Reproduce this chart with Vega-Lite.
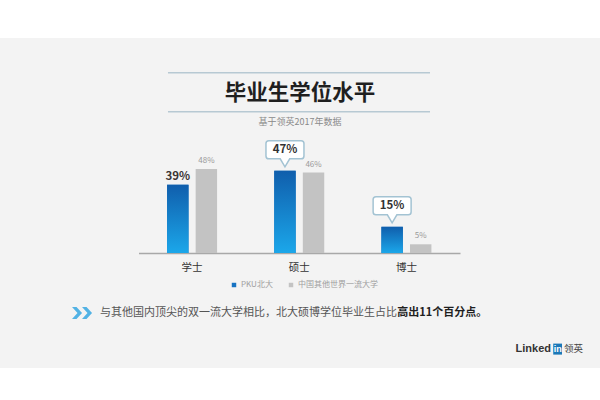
{
  "$schema": "https://vega.github.io/schema/vega-lite/v6.json",
  "width": 600,
  "height": 330,
  "autosize": "none",
  "padding": {"top": 38, "bottom": 32, "left": 0, "right": 0},
  "background": "#ffffff",
  "config": {
    "font": "Noto Sans CJK SC",
    "view": {"fill": "#f3f3f3", "stroke": null}
  },
  "title": {
    "text": "毕业生学位水平",
    "subtitle": "基于领英2017年数据",
    "anchor": "middle",
    "offset": -89,
    "fontSize": 21.5,
    "fontWeight": "bold",
    "color": "#1f1f1f",
    "subtitleFontSize": 9,
    "subtitleColor": "#8a8a8a",
    "subtitlePadding": 14
  },
  "data": {
    "values": [
      {"degree": "学士", "school": "PKU北大", "share": 0.39},
      {"degree": "学士", "school": "中国其他世界一流大学", "share": 0.48},
      {"degree": "硕士", "school": "PKU北大", "share": 0.47},
      {"degree": "硕士", "school": "中国其他世界一流大学", "share": 0.46},
      {"degree": "博士", "school": "PKU北大", "share": 0.15},
      {"degree": "博士", "school": "中国其他世界一流大学", "share": 0.05}
    ]
  },
  "layer": [
    {
      "encoding": {
        "x": {
          "field": "degree",
          "type": "nominal",
          "scale": {"type": "band", "domain": ["学士", "硕士", "博士"], "range": [138.5, 460], "paddingInner": 0, "paddingOuter": 0},
          "axis": {
            "title": null,
            "offset": -115,
            "ticks": false,
            "grid": false,
            "labelAngle": 0,
            "labelFontSize": 10.5,
            "labelColor": "#333333",
            "labelPadding": 9,
            "domainColor": "#a8a8a8",
            "domainWidth": 1.5
          }
        },
        "xOffset": {
          "field": "school",
          "type": "nominal",
          "scale": {"domain": ["PKU北大", "中国其他世界一流大学"], "paddingInner": 0.25, "paddingOuter": 1.4}
        },
        "y": {
          "field": "share",
          "type": "quantitative",
          "scale": {"domain": [-0.657, 1.229], "nice": false, "zero": false},
          "axis": null
        }
      },
      "layer": [
        {
          "mark": {"type": "bar"},
          "encoding": {
            "color": {
              "field": "school",
              "type": "nominal",
              "scale": {"domain": ["PKU北大", "中国其他世界一流大学"], "range": ["#1672c2", "#c3c3c3"]},
              "legend": {
                "orient": "none",
                "legendX": 230,
                "legendY": 243,
                "direction": "horizontal",
                "title": null,
                "symbolType": "square",
                "symbolSize": 20,
                "labelFontSize": 8,
                "labelColor": "#a0a0a0",
                "labelOffset": 3,
                "columnPadding": 14
              }
            }
          }
        },
        {
          "transform": [{"filter": "datum.school == 'PKU北大'"}],
          "mark": {
            "type": "bar",
            "fill": {
              "gradient": "linear",
              "x1": 0, "y1": 0, "x2": 0, "y2": 1,
              "stops": [
                {"offset": 0, "color": "#105eac"},
                {"offset": 1, "color": "#1ba7ea"}
              ]
            }
          }
        },
        {
          "transform": [{"filter": "datum.school != 'PKU北大'"}],
          "mark": {"type": "text", "baseline": "bottom", "dy": -4, "fontSize": 8, "color": "#9a9a9a"},
          "encoding": {"text": {"field": "share", "type": "quantitative", "format": ".0%"}}
        },
        {
          "transform": [{"filter": "datum.school == 'PKU北大' && datum.degree == '学士'"}],
          "mark": {"type": "text", "baseline": "bottom", "dy": -3, "fontSize": 11.5, "fontWeight": "bold", "color": "#3a3333"},
          "encoding": {"text": {"field": "share", "type": "quantitative", "format": ".0%"}}
        },
        {
          "transform": [{"filter": "datum.school == 'PKU北大' && datum.degree != '学士'"}],
          "mark": {
            "type": "point",
            "shape": "M -0.85 -0.95 L 0.85 -0.95 Q 1 -0.95 1 -0.8 L 1 -0.15 Q 1 0 0.85 0 L 0.25 0 L 0 0.42 L -0.25 0 L -0.85 0 Q -1 0 -1 -0.15 L -1 -0.8 Q -1 -0.95 -0.85 -0.95 Z",
            "size": 1444,
            "filled": true,
            "fill": "#ffffff",
            "stroke": "#a3c3d3",
            "strokeWidth": 1.5,
            "opacity": 1,
            "yOffset": -12
          }
        },
        {
          "transform": [{"filter": "datum.school == 'PKU北大' && datum.degree != '学士'"}],
          "mark": {"type": "text", "baseline": "middle", "yOffset": -21, "fontSize": 11.5, "fontWeight": "bold", "color": "#333333"},
          "encoding": {"text": {"field": "share", "type": "quantitative", "format": ".0%"}}
        }
      ]
    },
    {
      "data": {"values": [{}]},
      "layer": [
        {
          "mark": {"type": "rule", "color": "#b7c9d3", "strokeWidth": 1.5},
          "encoding": {
            "x": {"datum": "学士", "type": "nominal", "bandPosition": 0.275},
            "x2": {"datum": "博士", "bandPosition": 0.72},
            "y": {"datum": 1.031, "type": "quantitative"}
          }
        },
        {
          "mark": {"type": "rule", "color": "#b7c9d3", "strokeWidth": 1.5},
          "encoding": {
            "x": {"datum": "学士", "type": "nominal", "bandPosition": 0.275},
            "x2": {"datum": "博士", "bandPosition": 0.72},
            "y": {"datum": 0.807, "type": "quantitative"}
          }
        },
        {
          "mark": {
            "type": "point",
            "shape": "M -1 -0.6 L -0.55 -0.6 L 0 0 L -0.55 0.6 L -1 0.6 L -0.45 0 Z M 0 -0.6 L 0.45 -0.6 L 1 0 L 0.45 0.6 L 0 0.6 L 0.55 0 Z",
            "size": 400,
            "filled": true,
            "color": "#52b2e4",
            "opacity": 1
          },
          "encoding": {
            "x": {"datum": "学士", "type": "nominal", "bandPosition": -0.527},
            "y": {"datum": -0.343, "type": "quantitative"}
          }
        },
        {
          "mark": {"type": "text", "align": "left", "baseline": "middle", "fontSize": 11, "color": "#555555", "text": "与其他国内顶尖的双一流大学相比，北大硕博学位毕业生占比"},
          "encoding": {
            "x": {"datum": "学士", "type": "nominal", "bandPosition": -0.359},
            "y": {"datum": -0.343, "type": "quantitative"}
          }
        },
        {
          "mark": {"type": "text", "align": "left", "baseline": "middle", "fontSize": 11, "fontWeight": "bold", "color": "#1f1f1f", "text": "高出11个百分点。"},
          "encoding": {
            "x": {"datum": "博士", "type": "nominal", "bandPosition": 0.415},
            "y": {"datum": -0.343, "type": "quantitative"}
          }
        },
        {
          "mark": {"type": "text", "align": "right", "baseline": "middle", "font": "Liberation Sans", "fontSize": 11, "fontWeight": "bold", "color": "#333333", "text": "Linked"},
          "encoding": {
            "x": {"datum": "博士", "type": "nominal", "bandPosition": 1.849},
            "y": {"datum": -0.549, "type": "quantitative"}
          }
        },
        {
          "mark": {
            "type": "point",
            "shape": "M -0.8 -1 L 0.8 -1 L 0.8 1 L -0.8 1 Z",
            "size": 121,
            "filled": true,
            "color": "#1b78b8",
            "opacity": 1
          },
          "encoding": {
            "x": {"datum": "博士", "type": "nominal", "bandPosition": 1.911},
            "y": {"datum": -0.549, "type": "quantitative"}
          }
        },
        {
          "mark": {"type": "text", "align": "center", "baseline": "middle", "font": "Liberation Sans", "fontSize": 9, "fontWeight": "bold", "color": "#ffffff", "text": "in"},
          "encoding": {
            "x": {"datum": "博士", "type": "nominal", "bandPosition": 1.911},
            "y": {"datum": -0.549, "type": "quantitative"}
          }
        },
        {
          "mark": {"type": "text", "align": "left", "baseline": "middle", "fontSize": 9.5, "color": "#444444", "text": "领英"},
          "encoding": {
            "x": {"datum": "博士", "type": "nominal", "bandPosition": 1.97},
            "y": {"datum": -0.549, "type": "quantitative"}
          }
        }
      ]
    }
  ]
}
